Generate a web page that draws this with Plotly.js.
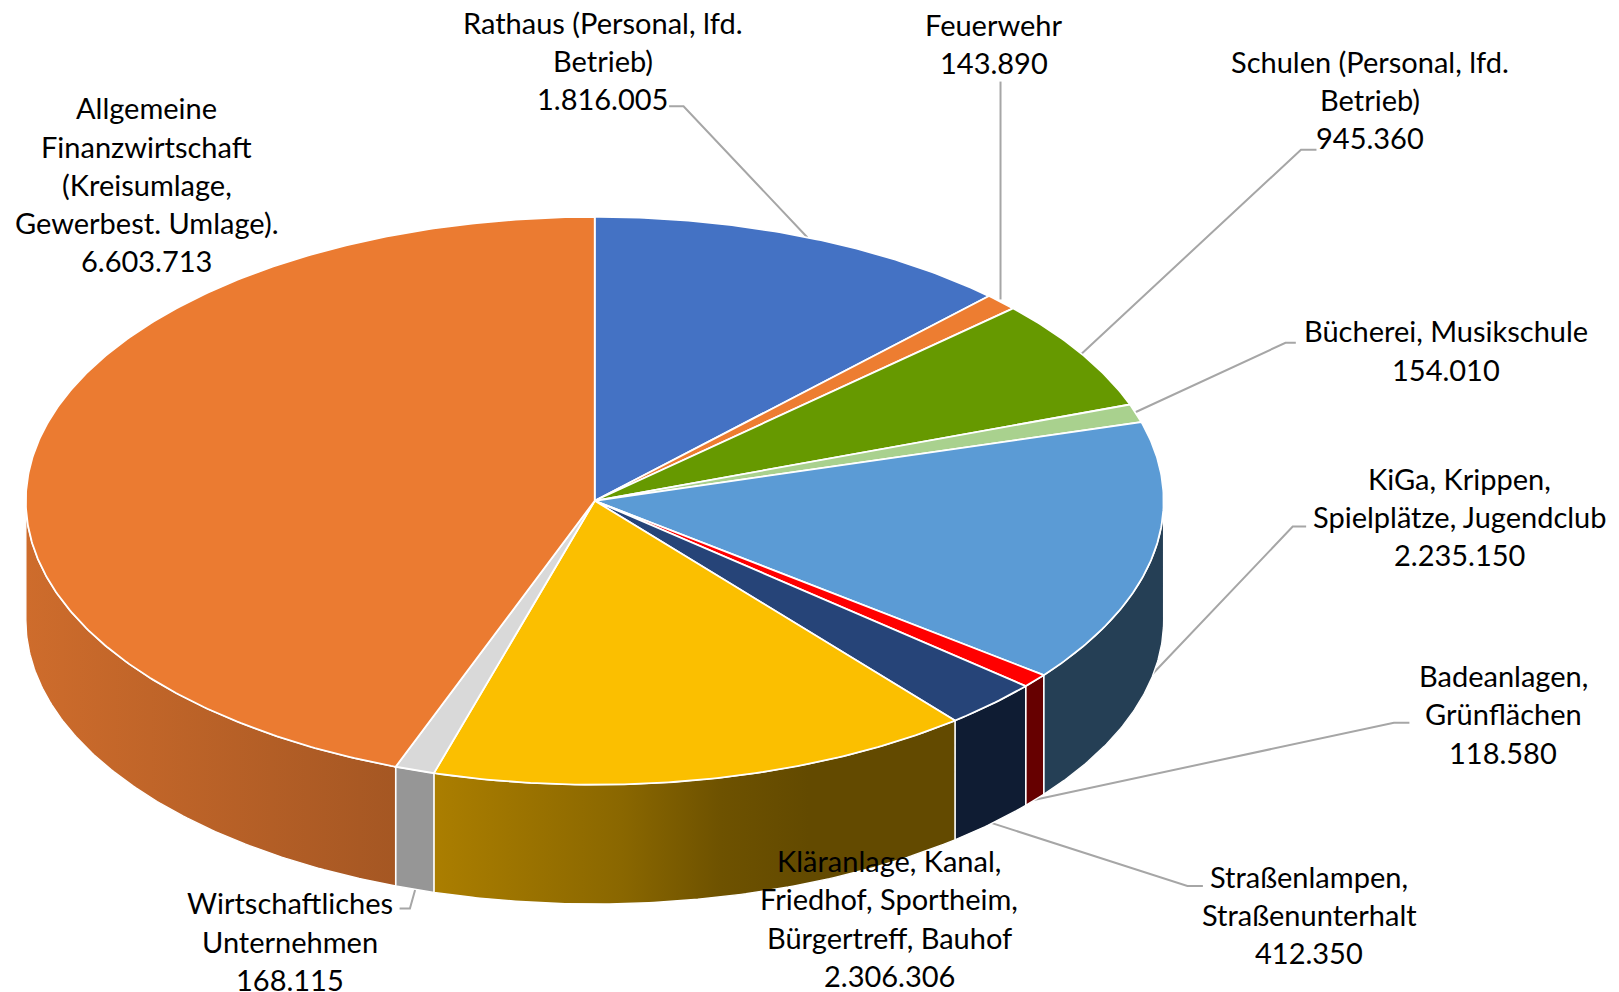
<!DOCTYPE html>
<html><head><meta charset="utf-8">
<script src="https://cdn.plot.ly/plotly-3.0.1.min.js"></script>
<style>html,body{margin:0;padding:0;background:#fff}#c{width:1619px;height:992px}</style>
</head><body><div id="c"></div>
<script>
const categories = ["Rathaus (Personal, lfd. Betrieb)","Feuerwehr","Schulen (Personal, lfd. Betrieb)","Bücherei, Musikschule","KiGa, Krippen, Spielplätze, Jugendclub","Badeanlagen, Grünflächen","Straßenlampen, Straßenunterhalt","Kläranlage, Kanal, Friedhof, Sportheim, Bürgertreff, Bauhof","Wirtschaftliches Unternehmen","Allgemeine Finanzwirtschaft (Kreisumlage, Gewerbest. Umlage)."];
const values = [1816005,143890,945360,154010,2235150,118580,412350,2306306,168115,6603713];
const valueLabels = ["1.816.005","143.890","945.360","154.010","2.235.150","118.580","412.350","2.306.306","168.115","6.603.713"];
const labelLines = [["Rathaus (Personal, lfd.","Betrieb)"],["Feuerwehr"],["Schulen (Personal, lfd.","Betrieb)"],["Bücherei, Musikschule"],["KiGa, Krippen,","Spielplätze, Jugendclub"],["Badeanlagen,","Grünflächen"],["Straßenlampen,","Straßenunterhalt"],["Kläranlage, Kanal,","Friedhof, Sportheim,","Bürgertreff, Bauhof"],["Wirtschaftliches","Unternehmen"],["Allgemeine","Finanzwirtschaft","(Kreisumlage,","Gewerbest. Umlage)."]];
const topColors = ["#4472C4","#ED7D31","#669900","#A9D18E","#5B9BD5","#FF0000","#264478","#FBBF00","#D9D9D9","#EB7B31"];
const wallScales = [null,null,null,null,
  [[0,"#253F55"],[1,"#253F55"]],
  [[0,"#660000"],[1,"#660000"]],
  [[0,"#0F1C33"],[1,"#0F1C33"]],
  [[0,"#AB7E00"],[0.36,"#8A6700"],[0.55,"#6E5200"],[0.72,"#634A00"],[1,"#634A00"]],
  [[0,"#969696"],[1,"#969696"]],
  [[0,"#CE6C2C"],[1,"#A55723"]]];

const S = 1619/1568;
const labelX = [584,963,1327,1400,1414,1456,1268,861,281,142];
const labelY = [21.5,23.5,59.5,320.5,463.5,654.5,848.5,833.5,874.5,104.5];
const lineGap = 37;
const leaders = [
 [[648,103],[662,103],[782,230]],
 [[969,79],[969,290]],
 [[1275,145],[1260,145],[1047,343]],
 [[1255,332],[1245,332],[1098,400]],
 [[1265,510],[1252,510],[1116,653]],
 [[1365,700],[1350,700],[1000,775]],
 [[1165,858],[1150,858],[960,797]],
 [[387,880],[397,880],[402,862]]
];

const cx=576*S, cy=485*S, a=551*S, b=275*S, depth=115.5*S;
const total = values.reduce((p,v)=>p+v,0);
const px = t => cx + a*Math.sin(t);
const py = t => cy - b*Math.cos(t);
const rad = d => d*Math.PI/180;

function arc(t1,t2){const n=Math.max(2,Math.ceil((t2-t1)/rad(0.5)));const r=[];for(let i=0;i<=n;i++)r.push(t1+(t2-t1)*i/n);return r;}

const tops=[], walls=[];
let cum=0;
values.forEach((v,i)=>{
  const t1=cum/total*2*Math.PI; cum+=v; const t2=cum/total*2*Math.PI;
  const ar=arc(t1,t2);
  tops.push({type:'scatter',mode:'lines',name:categories[i],x:[cx,...ar.map(px),cx],y:[cy,...ar.map(py),cy],
    fill:'toself',fillcolor:topColors[i],line:{color:'#fff',width:1.8},hoverinfo:'name'});
  const w1=Math.max(t1,Math.PI/2), w2=Math.min(t2,1.5*Math.PI);
  if(w2>w1){
    const wr=arc(w1,w2);
    const xs=[...wr.map(px),...wr.slice().reverse().map(px)];
    xs.push(xs[0]);
    const ys=[...wr.map(py),...wr.slice().reverse().map(t=>py(t)+depth)];
    ys.push(ys[0]);
    walls.push({type:'scatter',mode:'lines',name:categories[i],x:xs,y:ys,fill:'toself',
      fillgradient:{type:'horizontal',colorscale:wallScales[i]},
      line:{color:'#fff',width:1.4},hoverinfo:'name'});
  }
});

const annotations=[];
categories.forEach((c,i)=>{
  const lines=[...labelLines[i],valueLabels[i]];
  lines.forEach((t,k)=>annotations.push({text:t,xref:'x',yref:'y',x:labelX[i]*S,y:(labelY[i]+k*lineGap)*S,
    showarrow:false,xanchor:'center',yanchor:'middle',font:{family:'Lato, Carlito, sans-serif',size:29,color:'#000'}}));
});

const shapes=leaders.map(l=>({type:'path',layer:'below',xref:'x',yref:'y',
  path:l.map((p,k)=>(k?'L':'M')+(p[0]*S)+','+(p[1]*S)).join(' '),line:{color:'#A6A6A6',width:2}}));

Plotly.newPlot('c',[...walls,...tops],{
  width:1619,height:992,margin:{l:0,r:0,t:0,b:0,pad:0},showlegend:false,
  paper_bgcolor:'#fff',plot_bgcolor:'#fff',
  xaxis:{range:[0,1619],visible:false,fixedrange:true},
  yaxis:{range:[992,0],visible:false,fixedrange:true},
  annotations,shapes
},{displayModeBar:false,staticPlot:true});
</script></body></html>
